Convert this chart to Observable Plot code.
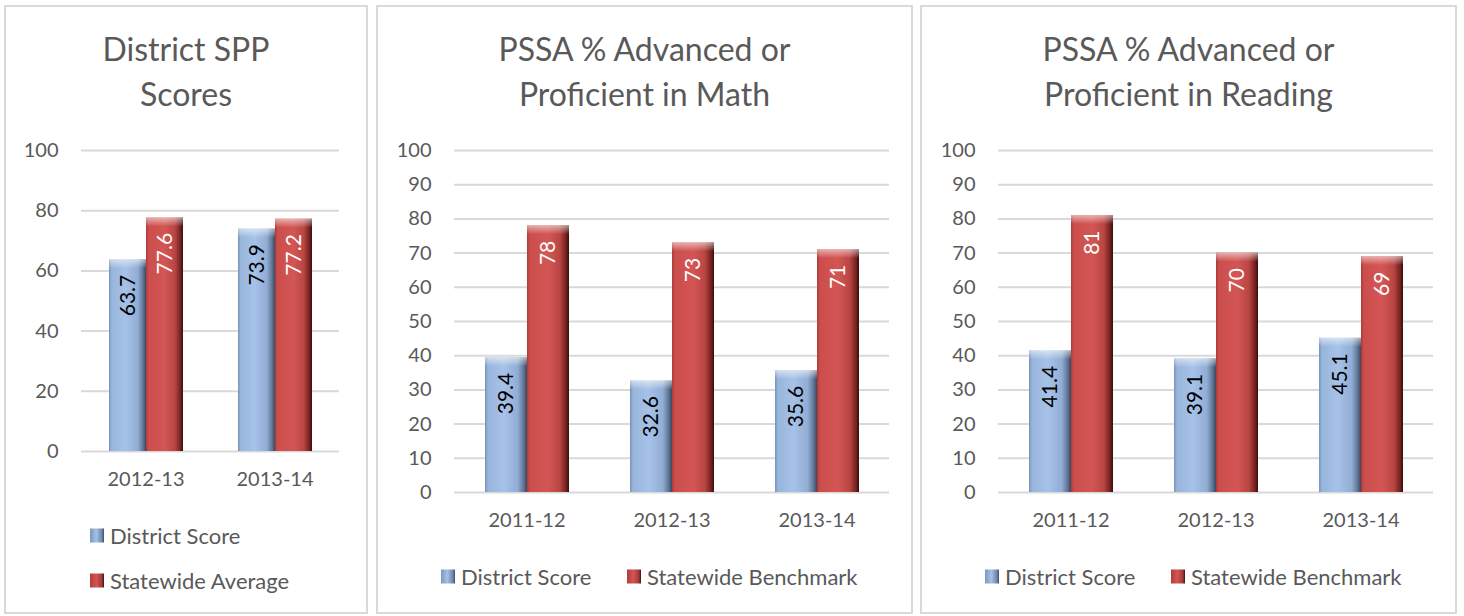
<!DOCTYPE html>
<html>
<head>
<meta charset="utf-8">
<script src="https://cdn.jsdelivr.net/npm/d3@7"></script>
<script src="https://cdn.jsdelivr.net/npm/@observablehq/plot@0.6"></script>
<style>
  html, body { margin: 0; padding: 0; background: #fff; }
  body { position: relative; width: 1464px; height: 616px; overflow: hidden; font-family: Lato, "Open Sans", sans-serif; color: #595959; }
  .panel { position: absolute; top: 5px; height: 609px; border: 2px solid #d9d9d9; box-sizing: border-box; }
  .title { position: absolute; left: 0; right: 0; top: 19px; text-align: center; font-size: 32px; line-height: 45px; color: #595959; }
  .chart { position: absolute; top: 123px; }
  .legend { position: absolute; font-size: 22px; color: #595959; white-space: nowrap; }
  .item { position: absolute; display: flex; align-items: center; transform: translateY(-50%); }
  .sw { display: inline-block; width: 14px; height: 14px; margin-right: 6px; }
  .sw.blue { background: linear-gradient(90deg, #7d97bd 0%, #a5c1e6 45%, #6d86aa 85%, #3d4c63 100%); }
  .sw.red { background: linear-gradient(90deg, #b13d3b 0%, #d35553 45%, #a03a38 85%, #3e0d0d 100%); }
</style>
</head>
<body>
<svg width="0" height="0" style="position:absolute">
  <defs>
    <linearGradient id="gBlue" x1="0" x2="1" y1="0" y2="0">
      <stop offset="0%" stop-color="#7890b4"/>
      <stop offset="7%" stop-color="#98b5dc"/>
      <stop offset="45%" stop-color="#a6c2e8"/>
      <stop offset="78%" stop-color="#91add3"/>
      <stop offset="92%" stop-color="#5f7596"/>
      <stop offset="100%" stop-color="#3a475c"/>
    </linearGradient>
    <linearGradient id="gRed" x1="0" x2="1" y1="0" y2="0">
      <stop offset="0%" stop-color="#a83a38"/>
      <stop offset="7%" stop-color="#cc4e4c"/>
      <stop offset="50%" stop-color="#d35654"/>
      <stop offset="78%" stop-color="#b94644"/>
      <stop offset="92%" stop-color="#7a2422"/>
      <stop offset="100%" stop-color="#3a0c0c"/>
    </linearGradient>
    <linearGradient id="gTop" x1="0" x2="0" y1="0" y2="1">
      <stop offset="0%" stop-color="#ffffff" stop-opacity="0.55"/>
      <stop offset="100%" stop-color="#ffffff" stop-opacity="0"/>
    </linearGradient>
  </defs>
</svg>

<div class="panel" id="p1" style="left:4px; width:364px;">
  <div class="title">District SPP<br>Scores</div>
</div>
<div class="panel" id="p2" style="left:376px; width:537px;">
  <div class="title">PSSA % Advanced or<br>Proficient in Math</div>
</div>
<div class="panel" id="p3" style="left:920px; width:537px;">
  <div class="title">PSSA % Advanced or<br>Proficient in Reading</div>
</div>

<script>
// ---- Data ----
const sppCategories = ["2012-13", "2013-14"];
const sppDistrict = [63.7, 73.9];
const sppState = [77.6, 77.2];
const sppTicks = [0, 20, 40, 60, 80, 100];

const pssaCategories = ["2011-12", "2012-13", "2013-14"];
const mathDistrict = [39.4, 32.6, 35.6];
const mathState = [78, 73, 71];
const readingDistrict = [41.4, 39.1, 45.1];
const readingState = [81, 70, 69];
const pssaTicks = [0, 10, 20, 30, 40, 50, 60, 70, 80, 90, 100];

const seriesNames = ["District", "State"];

function rows(cats, district, state) {
  const out = [];
  cats.forEach((c, i) => {
    out.push({cat: c, series: "District", value: district[i]});
    out.push({cat: c, series: "State", value: state[i]});
  });
  return out;
}

function makeChart({cats, district, state, ticks, width, height, marginLeft, marginRight, marginTop, marginBottom}) {
  const data = rows(cats, district, state);
  const dData = data.filter(d => d.series === "District");
  const sData = data.filter(d => d.series === "State");
  return Plot.plot({
    width, height, marginLeft, marginRight, marginTop, marginBottom,
    style: {fontFamily: "Lato, 'Open Sans', sans-serif", fontSize: "20px", color: "#595959", background: "transparent", overflow: "visible"},
    fx: {domain: cats, paddingInner: 0, paddingOuter: 0, label: null, tickSize: 0, tickPadding: 20, axis: "bottom"},
    x: {domain: seriesNames, paddingInner: 0, paddingOuter: 0.70, axis: null},
    y: {domain: [0, 100], ticks, label: null, tickSize: 0, tickPadding: 23},
    marks: [
      Plot.gridY(ticks, {stroke: "#d9d9d9", strokeOpacity: 1, strokeWidth: 2}),
      Plot.axisY(ticks, {tickSize: 0, tickPadding: 23, label: null, fill: "#595959", fontSize: 20}),
      Plot.barY(dData, {fx: "cat", x: "series", y: "value", fill: "url(#gBlue)"}),
      Plot.barY(sData, {fx: "cat", x: "series", y: "value", fill: "url(#gRed)"}),
      Plot.barY(data, {fx: "cat", x: "series", y1: "value", y2: "value", insetBottom: -9, fill: "url(#gTop)"}),
      Plot.text(dData, {fx: "cat", x: "series", y: "value", text: d => String(d.value), rotate: -90, textAnchor: "end", dy: 15, fill: "#000", fontSize: 21}),
      Plot.text(sData, {fx: "cat", x: "series", y: "value", text: d => String(d.value), rotate: -90, textAnchor: "end", dy: 15, fill: "#fff", fontSize: 21})
    ]
  });
}

function addLegend(panel, items) {
  const lg = document.createElement("div");
  lg.className = "legend";
  lg.style.left = "0"; lg.style.top = "0";
  items.forEach(it => {
    const el = document.createElement("div");
    el.className = "item";
    el.style.left = it.left + "px";
    el.style.top = it.top + "px";
    el.innerHTML = `<span class="sw ${it.cls}"></span><span>${it.label}</span>`;
    lg.appendChild(el);
  });
  panel.appendChild(lg);
}

// Panel 1
const p1 = document.getElementById("p1");
const c1 = makeChart({cats: sppCategories, district: sppDistrict, state: sppState, ticks: sppTicks,
  width: 360, height: 370, marginLeft: 75, marginRight: 27, marginTop: 20, marginBottom: 49});
c1.classList.add("chart"); c1.style.left = "0px";
p1.appendChild(c1);
addLegend(p1, [
  {left: 84, top: 528, cls: "blue", label: "District Score"},
  {left: 84, top: 573, cls: "red", label: "Statewide Average"}
]);

// Panel 2
const p2 = document.getElementById("p2");
const c2 = makeChart({cats: pssaCategories, district: mathDistrict, state: mathState, ticks: pssaTicks,
  width: 533, height: 410, marginLeft: 75, marginRight: 22, marginTop: 20, marginBottom: 48});
c2.classList.add("chart"); c2.style.left = "0px";
p2.appendChild(c2);
addLegend(p2, [
  {left: 63, top: 569, cls: "blue", label: "District Score"},
  {left: 249, top: 569, cls: "red", label: "Statewide Benchmark"}
]);

// Panel 3
const p3 = document.getElementById("p3");
const c3 = makeChart({cats: pssaCategories, district: readingDistrict, state: readingState, ticks: pssaTicks,
  width: 533, height: 410, marginLeft: 75, marginRight: 22, marginTop: 20, marginBottom: 48});
c3.classList.add("chart"); c3.style.left = "0px";
p3.appendChild(c3);
addLegend(p3, [
  {left: 63, top: 569, cls: "blue", label: "District Score"},
  {left: 249, top: 569, cls: "red", label: "Statewide Benchmark"}
]);
</script>
</body>
</html>
